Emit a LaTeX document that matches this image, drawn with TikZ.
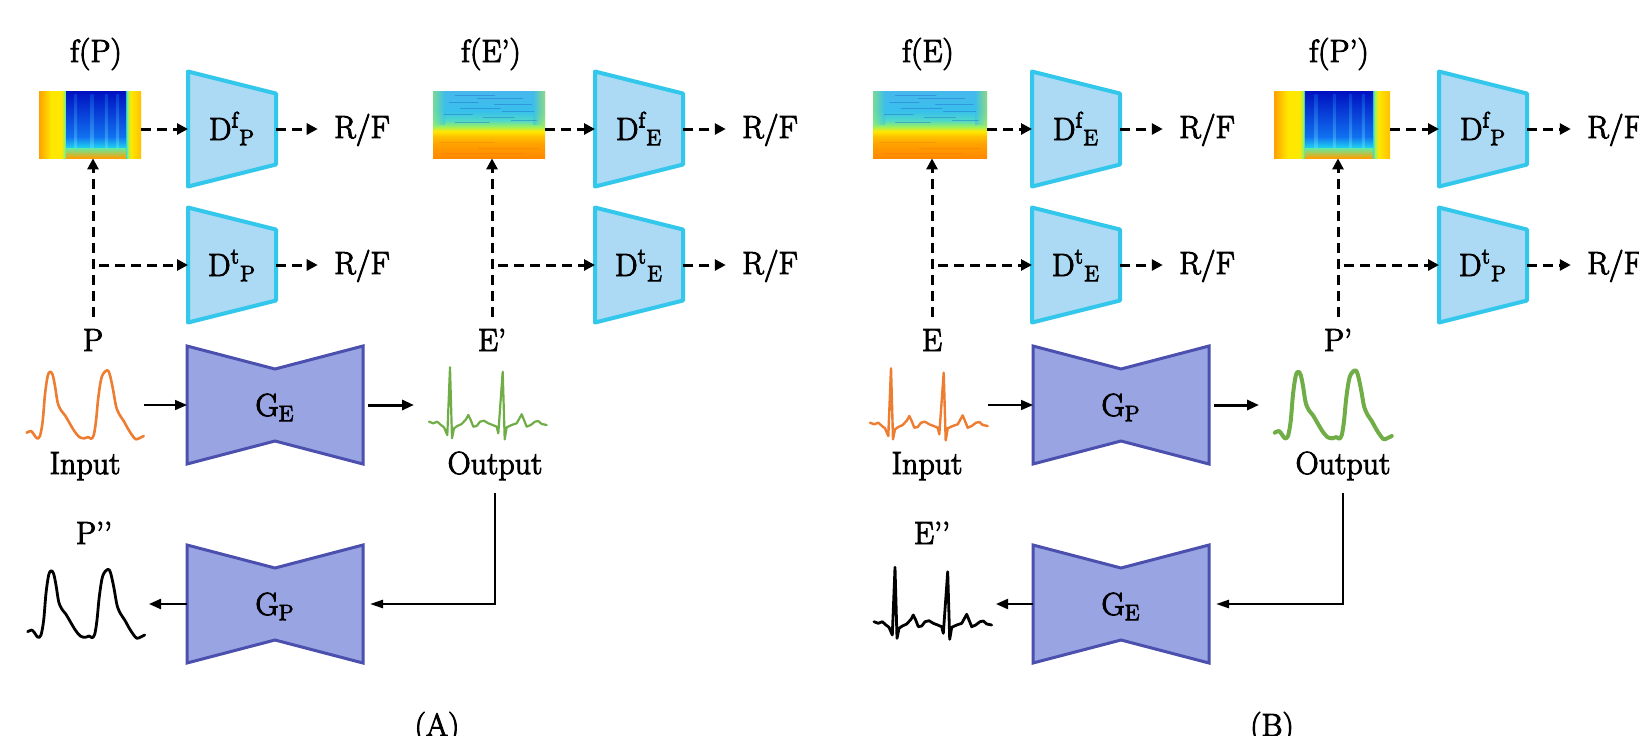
\documentclass[tikz,border=0pt]{standalone}
\usepackage{fontspec}
\setmainfont{Latin Modern Roman}[RawFeature={embolden=3}]
\usetikzlibrary{arrows.meta,calc}

\definecolor{discfill}{HTML}{ACDAF4}
\definecolor{discdraw}{HTML}{33C7EC}
\definecolor{genfill}{HTML}{99A4E3}
\definecolor{gendraw}{HTML}{4B4FAE}
\definecolor{ppgorange}{HTML}{ED7D31}
\definecolor{outgreen}{HTML}{70AD47}
\definecolor{specorange}{HTML}{FFA000}
\definecolor{specamber}{HTML}{FFC000}
\definecolor{specyellow}{HTML}{FFE800}
\definecolor{specgreen}{HTML}{9CF060}
\definecolor{speccyan}{HTML}{20D8F0}
\definecolor{specmid}{HTML}{1070F0}
\definecolor{specblue}{HTML}{0040E8}
\definecolor{specdeep}{HTML}{0010C0}
\definecolor{specstreak}{HTML}{1A5FC8}
\definecolor{ecgorange}{HTML}{FF8800}
\definecolor{ecgteal}{HTML}{50D8C8}
\definecolor{ecgcyan}{HTML}{38C0EC}
\definecolor{ecgtop}{HTML}{48B8EC}
\definecolor{ecgred}{HTML}{F06010}

\pgfdeclarehorizontalshading{ppgshade}{100bp}{color(0bp)=(specorange); color(25bp)=(specorange);
  color(31bp)=(specyellow); color(36bp)=(specyellow); color(37.5bp)=(specgreen);
  color(38.5bp)=(speccyan); color(39.5bp)=(specblue); color(66.5bp)=(specblue);
  color(67.5bp)=(speccyan); color(68.5bp)=(specgreen); color(70bp)=(specyellow);
  color(75bp)=(specamber); color(100bp)=(specamber)}
\pgfdeclareverticalshading{ecgshade}{100bp}{color(0bp)=(ecgorange); color(25bp)=(ecgorange);
  color(35bp)=(specorange); color(41bp)=(specamber); color(45bp)=(specyellow);
  color(48.5bp)=(specgreen); color(53bp)=(ecgteal); color(60bp)=(ecgcyan);
  color(75bp)=(ecgtop); color(100bp)=(ecgtop)}

\begin{document}
\begin{tikzpicture}[
  x=0.5pt, y=-0.5pt,
  font=\fontsize{16}{19}\selectfont,
  >={Triangle[length=6pt,width=5pt]},
  lbl/.style={inner sep=3pt, text height=11pt, text depth=0pt},
  discline/.style={draw=discdraw, fill=discfill, line width=2pt, line join=round},
  genline/.style={draw=gendraw, fill=genfill, line width=1.5pt},
  wave/.style={line join=round, line cap=round},
  dasharr/.style={->, line width=1.5pt, dash pattern=on 5pt off 3pt, >={Triangle[length=5.5pt,width=5.5pt]}},
  thinarr/.style={->, line width=0.8pt},
  outarr/.style={->, line width=1.5pt},
  fbarr/.style={->, line width=1.2pt, >={Triangle[length=6.5pt,width=4pt]}},
  disc/.pic={
    \draw[discline] (-44,-57.5) -- (44,-35.5) -- (44,35.5) -- (-44,57.5) -- cycle;
    \node[lbl] (-lbl) at (0,0) {#1};
    \coordinate (-in) at (-44,0);
    \coordinate (-out) at (44,0);
  },
  gen/.pic={
    \draw[genline] (-88,-59) -- (0,-36) -- (88,-59) -- (88,59) -- (0,36) -- (-88,59) -- cycle;
    \node[lbl] (-lbl) at (0,0) {#1};
    \coordinate (-in) at (-88,0);
    \coordinate (-out) at (88,0);
  },
  ppg/.pic={
    \draw[wave] plot[smooth, tension=0.55] coordinates {(-58.3,28.7) (-54,27) (-50.7,31) (-48,34.3)
      (-45,32) (-42.3,17) (-40,-9.7) (-37.3,-28) (-34.7,-32.3) (-32.3,-29) (-30,-18) (-27.3,-1.3)
      (-24,6.3) (-20,11.3) (-15.7,18.7) (-10.7,27) (-5.7,33) (-0.7,34.3) (3.3,33) (6,34.7)
      (8.7,31.3) (11,17) (13.3,-6.3) (16.7,-27) (22,-33.7) (24.7,-29.7) (28,-14.7) (31,2)
      (34.3,10.3) (38.7,17) (43.3,25.3) (47.7,32) (51,35.3) (55.3,33.7) (58.7,32)};
    \coordinate (-w) at (-59,0);
    \coordinate (-e) at (59,0);
  },
  ecg/.pic={
    \draw[wave] plot coordinates {(-59,17.7) (-54.7,19.3) (-50.7,17.7) (-47,21) (-44,23.3)
      (-40.7,31) (-38,-36.7) (-36,34.3) (-34,24.3) (-30.7,22) (-26.3,20) (-22,15.3) (-19.7,11)
      (-17.3,16) (-14.7,22.7) (-11.3,22) (-8,17.7) (-4,16.7) (0.3,19.3) (4.7,21) (8.7,22.7)
      (10.3,29.3) (14.7,-32.3) (16.7,35.3) (18.7,23.3) (23.7,21) (28.7,19.3) (33.7,10.3) (36,16)
      (38.7,22.7) (42.7,21) (47,17.7) (50.3,17) (53.7,20) (58.7,21)};
    \coordinate (-w) at (-59,0);
    \coordinate (-e) at (59,0);
  },
  ppgmap/.pic={
    \node[minimum width={#1*0.5pt}, minimum height=33.5pt, inner sep=0pt] (-box) at (0,0) {};
    \shade[shading=ppgshade] ({-#1/2},-33.5) rectangle ({#1/2},33.5);
    \shade[top color=specdeep, bottom color=specmid] ({-0.235*#1},-33.5) rectangle ({0.355*#1},12);
    \shade[top color=specmid, bottom color=speccyan] ({-0.235*#1},12) rectangle ({0.355*#1},24);
    \foreach \s in {0.36,0.52,0.66,0.77}
      \shade[top color=specmid, bottom color=speccyan!60!white, opacity=0.4]
        ({(\s-0.5)*#1-1.5},-30) rectangle ({(\s-0.5)*#1+1.5},24);
    \shade[top color=speccyan!40!specgreen, middle color=specyellow, bottom color=specorange]
      ({-0.235*#1},24) rectangle ({0.355*#1},33.5);
  },
  ecgmap/.pic={
    \node[minimum width={#1*0.5pt}, minimum height=33.5pt, inner sep=0pt] (-box) at (0,0) {};
    \shade[shading=ecgshade] ({-#1/2},-33.5) rectangle ({#1/2},33.5);
    \shade[left color=specgreen, right color=ecgcyan, opacity=0.6] ({-#1/2},-33.5) rectangle ({-#1/2+12},0);
    \shade[left color=ecgcyan, right color=specgreen!60!specyellow, opacity=0.6] ({#1/2-12},-33.5) rectangle ({#1/2},0);
    \foreach \a/\b/\c in {-0.3/0.05/-29, -0.1/0.3/-26, -0.35/-0.1/-22, 0.05/0.38/-20,
                         -0.25/0.1/-16, 0.12/0.4/-13, -0.4/-0.15/-10, -0.05/0.22/-7,
                         0.2/0.42/-4, -0.3/0.0/-2}
      \draw[specstreak, line width=0.8pt, line cap=round, opacity=0.4] ({\a*#1},\c) -- ({\b*#1},\c);
    \foreach \a/\b/\c in {-0.45/0.05/18, -0.1/0.45/24, -0.4/0.3/29}
      \draw[ecgred, line width=0.8pt, opacity=0.25] ({\a*#1},\c) -- ({\b*#1},\c);
  },
]
\useasboundingbox (0,0) rectangle (1639,735);

% (A) PPG -> ECG
\pic (fpa) at (90,124.5) {ppgmap=102};
\pic (fea) at (489,124.5) {ecgmap=112};
\node[lbl] (fpalbl) at (96,51) {f(P)};
\node[lbl] (fealbl) at (491,51) {f(E’)};

\pic (dfpa) at (232,129) {disc={D\textsuperscript{f}\textsubscript{P}}};
\pic (dtpa) at (232,265) {disc={D\textsuperscript{t}\textsubscript{P}}};
\pic (dfea) at (639,129) {disc={D\textsuperscript{f}\textsubscript{E}}};
\pic (dtea) at (639,265) {disc={D\textsuperscript{t}\textsubscript{E}}};
\node[lbl] (rfa1) at (362,127) {R/F};
\node[lbl] (rfa2) at (362,263) {R/F};
\node[lbl] (rfa3) at (770,127) {R/F};
\node[lbl] (rfa4) at (770,263) {R/F};

\node[lbl] (palbl) at (93,340) {P};
\node[lbl] (ealbl) at (492,340) {E’};
\pic[color=ppgorange, line width=1.3pt] (pina) at (85,404) {ppg};
\pic[color=outgreen, line width=1.1pt] (eouta) at (488,404) {ecg};
\node[lbl] (ina) at (85,463) {Input};
\node[lbl] (outa) at (495,463) {Output};
\pic (gea) at (275,405) {gen={G\textsubscript{E}}};
\pic (gpa) at (275,604) {gen={G\textsubscript{P}}};
\node[lbl] (pplbl) at (94,533) {P’’};
\pic[color=black, line width=1.4pt] (preca) at (86,603) {ppg};
\node[lbl] (capa) at (437,725) {(A)};

\draw[dasharr] (fpa-box.east |- dfpa-in) -- (dfpa-in);
\draw[dasharr, shorten >=5pt] (dfpa-out) -- (dfpa-out -| rfa1.west);
\draw[dasharr, shorten >=5pt] (dtpa-out) -- (dtpa-out -| rfa2.west);
\draw[dasharr] (fea-box.east |- dfea-in) -- (dfea-in);
\draw[dasharr, shorten >=5pt] (dfea-out) -- (dfea-out -| rfa3.west);
\draw[dasharr, shorten >=5pt] (dtea-out) -- (dtea-out -| rfa4.west);
\draw[dasharr, shorten <=3pt] (palbl.north) -- (palbl.north |- fpa-box.south);
\draw[dasharr, shorten <=3pt] (palbl.north |- dtpa-in) -- (dtpa-in);
\draw[dasharr, shorten <=3pt] (ealbl.north) -- (ealbl.north |- fea-box.south);
\draw[dasharr, shorten <=3pt] (ealbl.north |- dtea-in) -- (dtea-in);

\draw[thinarr] (gea-in -| pina-e) -- (gea-in);
\draw[outarr, shorten <=2.5pt, shorten >=7.5pt] (gea-out) -- (gea-out -| eouta-w);
\draw[fbarr, shorten <=6.5pt, shorten >=3.5pt] (outa.south) |- (gpa-out);
\draw[outarr, line width=1.1pt, shorten >=2pt] (gpa-in) -- (gpa-in -| preca-e);

% (B) ECG -> PPG
\pic (feb) at (930,124.5) {ecgmap=114};
\pic (fpb) at (1332,124.5) {ppgmap=116};
\node[lbl] (feblbl) at (928,51) {f(E)};
\node[lbl] (fpblbl) at (1339,51) {f(P’)};

\pic (dfeb) at (1076,129) {disc={D\textsuperscript{f}\textsubscript{E}}};
\pic (dteb) at (1076,265) {disc={D\textsuperscript{t}\textsubscript{E}}};
\pic (dfpb) at (1483,129) {disc={D\textsuperscript{f}\textsubscript{P}}};
\pic (dtpb) at (1483,265) {disc={D\textsuperscript{t}\textsubscript{P}}};
\node[lbl] (rfb1) at (1207,127) {R/F};
\node[lbl] (rfb2) at (1207,263) {R/F};
\node[lbl] (rfb3) at (1615,127) {R/F};
\node[lbl] (rfb4) at (1615,263) {R/F};

\node[lbl] (eblbl) at (932,340) {E};
\node[lbl] (pblbl) at (1338,340) {P’};
\pic[color=ppgorange, line width=1.2pt] (einb) at (929,405) {ecg};
\pic[color=outgreen, line width=2pt] (poutb) at (1333,404) {ppg};
\node[lbl] (inb) at (927,463) {Input};
\node[lbl] (outb) at (1343,463) {Output};
\pic (gpb) at (1121,405) {gen={G\textsubscript{P}}};
\pic (geb) at (1121,604) {gen={G\textsubscript{E}}};
\node[lbl] (eelbl) at (932,533) {E’’};
\pic[color=black, line width=1.4pt] (erecb) at (933,604) {ecg};
\node[lbl] (capb) at (1272,725) {(B)};

\draw[dasharr] (feb-box.east |- dfeb-in) -- (dfeb-in);
\draw[dasharr, shorten >=5pt] (dfeb-out) -- (dfeb-out -| rfb1.west);
\draw[dasharr, shorten >=5pt] (dteb-out) -- (dteb-out -| rfb2.west);
\draw[dasharr] (fpb-box.east |- dfpb-in) -- (dfpb-in);
\draw[dasharr, shorten >=5pt] (dfpb-out) -- (dfpb-out -| rfb3.west);
\draw[dasharr, shorten >=5pt] (dtpb-out) -- (dtpb-out -| rfb4.west);
\draw[dasharr, shorten <=3pt] (eblbl.north) -- (eblbl.north |- feb-box.south);
\draw[dasharr, shorten <=3pt] (eblbl.north |- dteb-in) -- (dteb-in);
\draw[dasharr, shorten <=3pt] (pblbl.north) -- (pblbl.north |- fpb-box.south);
\draw[dasharr, shorten <=3pt] (pblbl.north |- dtpb-in) -- (dtpb-in);

\draw[thinarr] (gpb-in -| einb-e) -- (gpb-in);
\draw[outarr, shorten <=2.5pt, shorten >=7.5pt] (gpb-out) -- (gpb-out -| poutb-w);
\draw[fbarr, shorten <=6.5pt, shorten >=3.5pt] (outb.south) |- (geb-out);
\draw[outarr, line width=1.1pt, shorten >=2pt] (geb-in) -- (geb-in -| erecb-e);
\end{tikzpicture}
\end{document}
